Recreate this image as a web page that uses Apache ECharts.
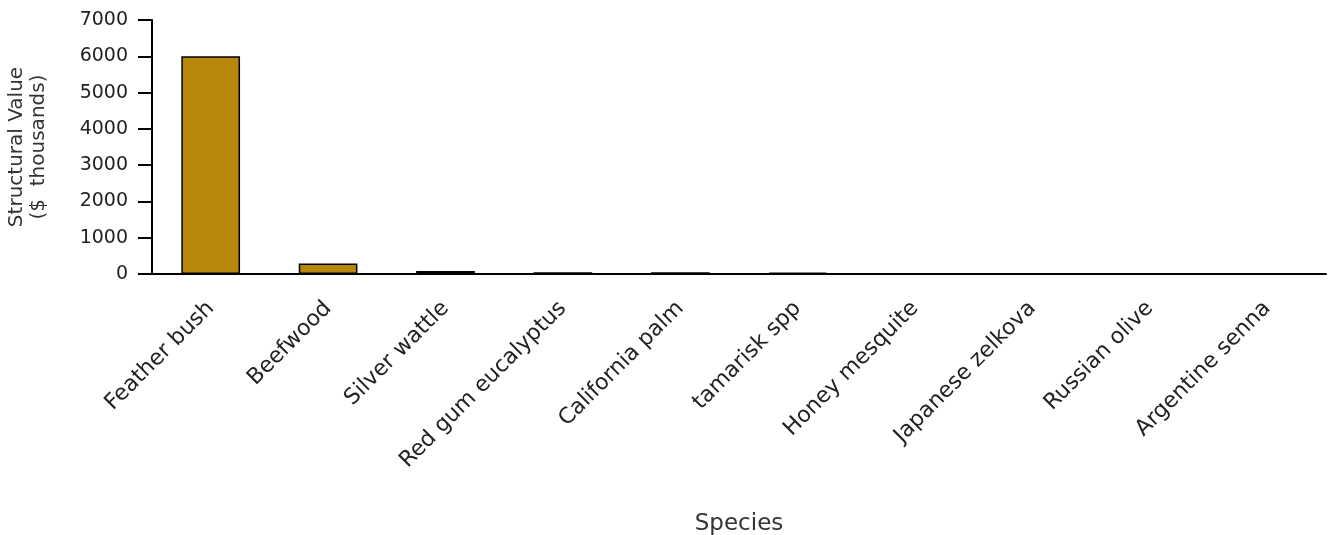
<!DOCTYPE html>
<html>
<head>
<meta charset="utf-8">
<script src="https://cdn.jsdelivr.net/npm/echarts@6/dist/echarts.min.js"></script>
<style>
html,body{margin:0;padding:0;background:#fff;}
#chart{width:1329px;height:535px;}
</style>
</head>
<body>
<div id="chart"></div>
<script>
const categories = ["Feather bush","Beefwood","Silver wattle","Red gum eucalyptus","California palm","tamarisk spp","Honey mesquite","Japanese zelkova","Russian olive","Argentine senna"];
const structuralValues = [6000, 290, 85, 50, 45, 40, 5, 3, 2, 1];
const yTicks = [0, 1000, 2000, 3000, 4000, 5000, 6000, 7000];

const FONT = "DejaVu Sans";
const chart = echarts.init(document.getElementById('chart'), null, {renderer: 'canvas'});
chart.setOption({
  animation: false,
  backgroundColor: '#ffffff',
  grid: {left: 152, right: 3, top: 20, bottom: 261, containLabel: false, outerBoundsMode: 'none'},
  xAxis: {
    type: 'category',
    data: categories,
    name: 'Species',
    nameLocation: 'middle',
    nameGap: 239,
    nameTextStyle: {fontFamily: FONT, fontSize: 23, color: '#333'},
    axisLine: {lineStyle: {color: '#000', width: 2}},
    axisTick: {alignWithLabel: true, length: 14, lineStyle: {color: '#000', width: 2}},
    axisLabel: {rotate: 45, margin: 31, fontFamily: FONT, fontSize: 22, color: '#222', interval: 0}
  },
  yAxis: {
    type: 'value',
    min: yTicks[0],
    max: yTicks[yTicks.length - 1],
    interval: 1000,
    name: 'Structural Value\n($  thousands)',
    nameLocation: 'middle',
    nameRotate: 90,
    nameGap: 102,
    nameTextStyle: {fontFamily: FONT, fontSize: 20, color: '#333', lineHeight: 22, align: 'center'},
    axisLine: {show: true, lineStyle: {color: '#000', width: 2}},
    axisTick: {show: true, length: 14, lineStyle: {color: '#000', width: 2}},
    axisLabel: {margin: 24, fontFamily: FONT, fontSize: 19, color: '#222', formatter: function (v) { return String(v); }},
    splitLine: {show: false}
  },
  series: [{
    type: 'bar',
    data: structuralValues,
    barWidth: '50%',
    itemStyle: {color: '#B8860B', borderColor: '#000', borderWidth: 1.5}
  }]
});
</script>
</body>
</html>
